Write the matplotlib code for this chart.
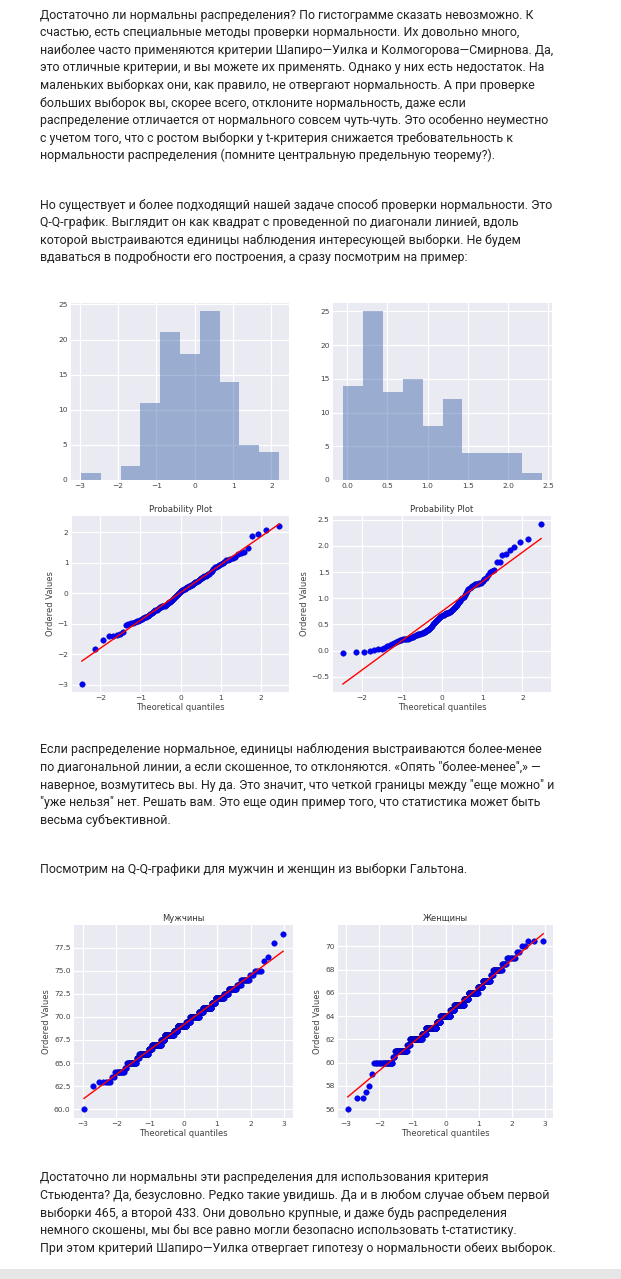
import numpy as np
import matplotlib
matplotlib.use("Agg")
import matplotlib.pyplot as plt
from matplotlib.patches import Rectangle
from statistics import NormalDist

# ---------------- data ----------------
sample_normal = [
    -2.97, -1.83, -1.53, -1.40, -1.38, -1.35, -1.32, -1.27, -1.02, -1.00, -0.98, -0.96, -0.94, -0.92,
    -0.89, -0.87, -0.84, -0.81, -0.78, -0.76, -0.73, -0.70, -0.67, -0.64, -0.62, -0.59, -0.56, -0.54,
    -0.51, -0.49, -0.46, -0.44, -0.42, -0.41, -0.40,
    -0.37, -0.35, -0.32, -0.29, -0.27, -0.24, -0.21, -0.19, -0.16, -0.12, -0.08, -0.05, -0.02, 0.02,
    0.06, 0.09, 0.11, 0.12,
    0.14, 0.16, 0.18, 0.20, 0.21, 0.23, 0.25, 0.27, 0.29, 0.31, 0.33, 0.36, 0.39, 0.41, 0.44, 0.46,
    0.49, 0.51, 0.54, 0.56, 0.58, 0.60, 0.62, 0.64,
    0.70, 0.74, 0.80, 0.85, 0.88, 0.90, 0.92, 0.96, 1.00, 1.04, 1.08, 1.11, 1.13, 1.15,
    1.18, 1.30, 1.33, 1.35, 1.50,
    1.87, 1.95, 2.08, 2.20,
]

sample_skewed = [
    -0.05, -0.02, -0.02, 0.00, 0.02, 0.03, 0.04, 0.06, 0.08, 0.10, 0.12, 0.14, 0.16, 0.18,
    0.20, 0.21, 0.22, 0.22, 0.23, 0.23, 0.24, 0.25, 0.26, 0.27, 0.28, 0.29, 0.30, 0.31, 0.31,
    0.32, 0.33, 0.34, 0.35, 0.36, 0.37, 0.39, 0.40, 0.42, 0.44,
    0.45, 0.47, 0.50, 0.52, 0.54, 0.56, 0.58, 0.60, 0.62, 0.64, 0.66, 0.68, 0.69,
    0.70, 0.71, 0.72, 0.72, 0.73, 0.74, 0.75, 0.77, 0.79, 0.81, 0.84, 0.86, 0.88, 0.91, 0.93,
    0.95, 0.98, 1.00, 1.03, 1.06, 1.10, 1.14, 1.18,
    1.20, 1.22, 1.24, 1.26, 1.27, 1.28, 1.28, 1.29, 1.30, 1.33, 1.36, 1.38,
    1.45, 1.50, 1.52, 1.55,
    1.69, 1.70, 1.83, 1.84,
    1.93, 1.98, 2.08, 2.13,
    2.42,
]

men_heights = [60, 62.5, 63, 63.5, 64, 64.5, 65, 65.5, 66, 66.5, 67, 67.5, 68, 68.5, 69, 69.5,
               70, 70.5, 71, 71.5, 72, 72.5, 73, 73.5, 74, 74.5, 75, 76, 76.5, 78, 79]
men_counts = [1, 1, 5, 2, 9, 3, 16, 6, 26, 11, 37, 16, 46, 20, 49, 21,
              46, 19, 37, 15, 26, 11, 16, 6, 9, 3, 4, 1, 1, 1, 1]

women_heights = [56, 57, 57.5, 58, 59, 60, 60.5, 61, 61.5, 62, 62.5, 63, 63.5, 64, 64.5, 65,
                 65.5, 66, 66.5, 67, 67.5, 68, 68.5, 69, 69.5, 70, 70.5]
women_counts = [1, 2, 1, 1, 1, 18, 3, 26, 8, 42, 17, 50, 20, 51, 21, 46,
                19, 35, 14, 19, 5, 14, 5, 7, 2, 2, 3]

hist1_ticks = [-3, -2, -1, 0, 1, 2]
hist2_ticks = [0.0, 0.5, 1.0, 1.5, 2.0, 2.5]
hist_yticks = [0, 5, 10, 15, 20, 25]
qq1_yticks = [-3, -2, -1, 0, 1, 2]
qq2_yticks = [-0.5, 0.0, 0.5, 1.0, 1.5, 2.0, 2.5]
qq_xticks = [-2, -1, 0, 1, 2]
galton_xticks = [-3, -2, -1, 0, 1, 2, 3]
men_yticks = [60.0, 62.5, 65.0, 67.5, 70.0, 72.5, 75.0, 77.5]
women_yticks = [56, 58, 60, 62, 64, 66, 68, 70]

para1 = [
    "Достаточно ли нормальны распределения? По гистограмме сказать невозможно. К",
    "счастью, есть специальные методы проверки нормальности. Их довольно много,",
    "наиболее часто применяются критерии Шапиро—Уилка и Колмогорова—Смирнова. Да,",
    "это отличные критерии, и вы можете их применять. Однако у них есть недостаток. На",
    "маленьких выборках они, как правило, не отвергают нормальность. А при проверке",
    "больших выборок вы, скорее всего, отклоните нормальность, даже если",
    "распределение отличается от нормального совсем чуть-чуть. Это особенно неуместно",
    "с учетом того, что с ростом выборки у t-критерия снижается требовательность к",
    "нормальности распределения (помните центральную предельную теорему?).",
]
para2 = [
    "Но существует и более подходящий нашей задаче способ проверки нормальности. Это",
    "Q-Q-график. Выглядит он как квадрат с проведенной по диагонали линией, вдоль",
    "которой выстраиваются единицы наблюдения интересующей выборки. Не будем",
    "вдаваться в подробности его построения, а сразу посмотрим на пример:",
]
para3 = [
    "Если распределение нормальное, единицы наблюдения выстраиваются более-менее",
    "по диагональной линии, а если скошенное, то отклоняются. «Опять \"более-менее\",» —",
    "наверное, возмутитесь вы. Ну да. Это значит, что четкой границы между \"еще можно\" и",
    "\"уже нельзя\" нет. Решать вам. Это еще один пример того, что статистика может быть",
    "весьма субъективной.",
]
para4 = ["Посмотрим на Q-Q-графики для мужчин и женщин из выборки Гальтона."]
para5 = [
    "Достаточно ли нормальны эти распределения для использования критерия",
    "Стьюдента? Да, безусловно. Редко такие увидишь. Да и в любом случае объем первой",
    "выборки 465, а второй 433. Они довольно крупные, и даже будь распределения",
    "немного скошены, мы бы все равно могли безопасно использовать t-статистику.",
    "При этом критерий Шапиро—Уилка отвергает гипотезу о нормальности обеих выборок.",
]

# ---------------- layout helpers ----------------
W, H = 621, 1279
fig = plt.figure(figsize=(W / 100, H / 100), dpi=100, facecolor="white")


def add_axes_px(left, top, right, bottom):
    return fig.add_axes([left / W, 1 - bottom / H, (right - left) / W, (bottom - top) / H])


BG = "#EAEAF2"
TXT = "#444444"
TICK_FS = 5.4
LAB_FS = 6.0


def style(ax):
    ax.set_facecolor(BG)
    for s in ax.spines.values():
        s.set_visible(False)
    ax.grid(True, color="white", linewidth=0.9)
    ax.set_axisbelow(True)
    ax.tick_params(length=0, pad=2.5, labelsize=TICK_FS, labelcolor=TXT)


nd = NormalDist()


def theoretical_quantiles(n):
    m = np.empty(n)
    m[-1] = 0.5 ** (1.0 / n)
    m[0] = 1 - m[-1]
    i = np.arange(2, n)
    m[1:-1] = (i - 0.3175) / (n + 0.365)
    return np.array([nd.inv_cdf(p) for p in m])


def qqplot(ax, values, title):
    y = np.sort(np.asarray(values, dtype=float))
    x = theoretical_quantiles(len(y))
    slope, intercept = np.polyfit(x, y, 1)
    ax.plot(x, y, "o", color="#0000FF", ms=4.0, mew=0.3, mec="#0000AA")
    ax.plot(x, slope * x + intercept, color="#FF0000", lw=1.0)
    ax.margins(0.05)
    ax.set_title(title, fontsize=LAB_FS, color="#333333", pad=3)
    ax.set_xlabel("Theoretical quantiles", fontsize=LAB_FS, color=TXT, labelpad=1)
    ax.set_ylabel("Ordered Values", fontsize=LAB_FS, color=TXT, labelpad=2)


# ---------------- histograms ----------------
ax1 = add_axes_px(71, 303, 289, 480)
style(ax1)
ax1.hist(sample_normal, bins=10, color="#4C72B0", alpha=0.5)
ax1.set_xticks(hist1_ticks)
ax1.set_yticks(hist_yticks)

ax2 = add_axes_px(333, 303, 552, 480)
style(ax2)
ax2.hist(sample_skewed, bins=10, color="#4C72B0", alpha=0.5)
ax2.set_xticks(hist2_ticks)
ax2.set_yticks(hist_yticks)

# ---------------- probability plots ----------------
ax3 = add_axes_px(72, 516, 289, 692)
style(ax3)
qqplot(ax3, sample_normal, "Probability Plot")
ax3.set_xticks(qq_xticks)
ax3.set_yticks(qq1_yticks)

ax4 = add_axes_px(333, 516, 551, 692)
style(ax4)
qqplot(ax4, sample_skewed, "Probability Plot")
ax4.set_xticks(qq_xticks)
ax4.set_yticks(qq2_yticks)

ax5 = add_axes_px(74, 925, 293, 1118)
style(ax5)
qqplot(ax5, np.repeat(men_heights, men_counts), "Мужчины")
ax5.set_xticks(galton_xticks)
ax5.set_yticks(men_yticks)

ax6 = add_axes_px(338, 925, 553, 1118)
style(ax6)
qqplot(ax6, np.repeat(women_heights, women_counts), "Женщины")
ax6.set_xticks(galton_xticks)
ax6.set_yticks(women_yticks)

# ---------------- article text ----------------
renderer = fig.canvas.get_renderer()
probe = fig.text(0, 0, para1[6], fontfamily="Roboto", fontsize=10)
w = probe.get_window_extent(renderer).width
probe.remove()
FS = 10 * 510.0 / w

LINE = 17.6


def write(lines, first_center):
    for k, s in enumerate(lines):
        base = first_center + 4.5 + k * LINE
        fig.text(40 / W, 1 - base / H, s, fontfamily="Roboto", fontsize=FS,
                 color="#222222", va="baseline", ha="left")


write(para1, 14)
write(para2, 204)
write(para3, 749)
write(para4, 869)
write(para5, 1177)

# bottom grey band
fig.patches.append(Rectangle((0, 0), 1, 10 / H, transform=fig.transFigure,
                             facecolor="#E6E6E6", edgecolor="none"))

fig.savefig("out.png", dpi=100, facecolor="white")
